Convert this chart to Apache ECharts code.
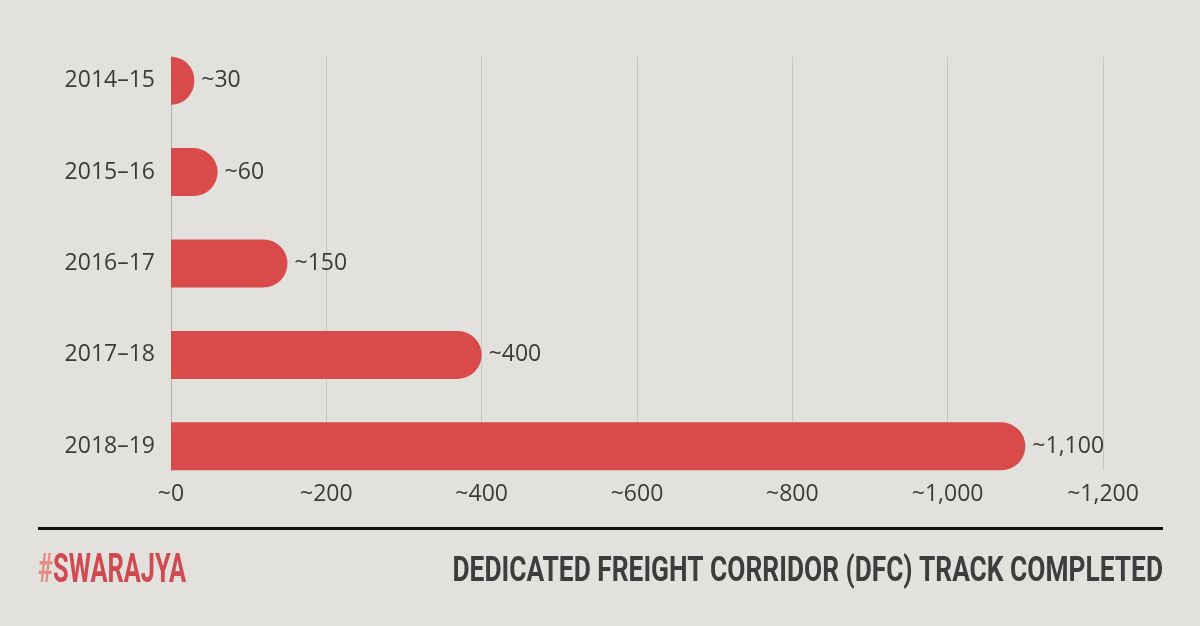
<!DOCTYPE html>
<html>
<head>
<meta charset="utf-8">
<script src="https://cdn.jsdelivr.net/npm/echarts@6/dist/echarts.min.js"></script>
<style>
html,body{margin:0;padding:0;background:#e3e1dd;}
#chart{width:1200px;height:626px;}
</style>
</head>
<body>
<div id="chart"></div>
<script>
var categories = ['2014–15', '2015–16', '2016–17', '2017–18', '2018–19'];
var trackKm = [30, 60, 150, 400, 1100];
var valueLabels = ['~30', '~60', '~150', '~400', '~1,100'];
var xTickLabels = { 0: '~0', 200: '~200', 400: '~400', 600: '~600', 800: '~800', 1000: '~1,000', 1200: '~1,200' };
var titleText = 'DEDICATED FREIGHT CORRIDOR (DFC) TRACK COMPLETED';

var chart = echarts.init(document.getElementById('chart'));
var labelFont = { fontFamily: 'Open Sans', fontSize: 23, color: '#3b3b3b' };

chart.setOption({
  backgroundColor: '#e3e1dd',
  animation: false,
  grid: [
    { left: 171, right: 97, top: 57, bottom: 156 },
    { left: 171, right: 97, top: 35, bottom: 134 }
  ],
  xAxis: [
    {
      gridIndex: 0, type: 'value', min: 0, max: 1200, interval: 200,
      axisLine: { show: false }, axisTick: { show: false },
      splitLine: { show: true, lineStyle: { color: '#c6c4c0', width: 1 } },
      axisLabel: Object.assign({ margin: 13, formatter: function (v) { return xTickLabels[v]; } }, labelFont)
    },
    {
      gridIndex: 1, type: 'value', min: 0, max: 1200, interval: 200,
      show: false
    }
  ],
  yAxis: [
    {
      gridIndex: 0, type: 'category', data: categories, inverse: true,
      axisLine: { show: true, lineStyle: { color: '#b4b2ae', width: 1 } },
      axisTick: { show: false }, axisLabel: { show: false }, splitLine: { show: false }
    },
    {
      gridIndex: 1, type: 'category', data: categories, inverse: true,
      axisLine: { show: false }, axisTick: { show: false },
      axisLabel: Object.assign({ margin: 16 }, labelFont)
    }
  ],
  series: [{
    type: 'bar',
    xAxisIndex: 1, yAxisIndex: 1,
    data: trackKm,
    barWidth: 48,
    itemStyle: { color: '#d94b4b', borderRadius: [0, 24, 24, 0] },
    label: Object.assign({
      show: true, position: 'right', distance: 7,
      formatter: function (p) { return valueLabels[p.dataIndex]; }
    }, labelFont)
  }],
  graphic: [
    { type: 'rect', shape: { x: 38, y: 527, width: 1125, height: 3 }, style: { fill: '#111111' } },
    {
      type: 'text', x: 38, y: 572, scaleX: 0.635,
      style: {
        text: '{h|#}{s|SWARAJYA}',
        textAlign: 'left', textVerticalAlign: 'middle',
        rich: {
          h: { fontFamily: 'Roboto', fontWeight: 'bold', fontSize: 40, fill: '#e58c84' },
          s: { fontFamily: 'Roboto', fontWeight: 'bold', fontSize: 40, fill: '#d04a50' }
        }
      }
    },
    {
      type: 'text', x: 1163, y: 572, scaleX: 0.752,
      style: {
        text: titleText,
        textAlign: 'right', textVerticalAlign: 'middle',
        fontFamily: 'Roboto', fontWeight: 'bold', fontSize: 35, fill: '#3d3d3d'
      }
    }
  ]
});
</script>
</body>
</html>
